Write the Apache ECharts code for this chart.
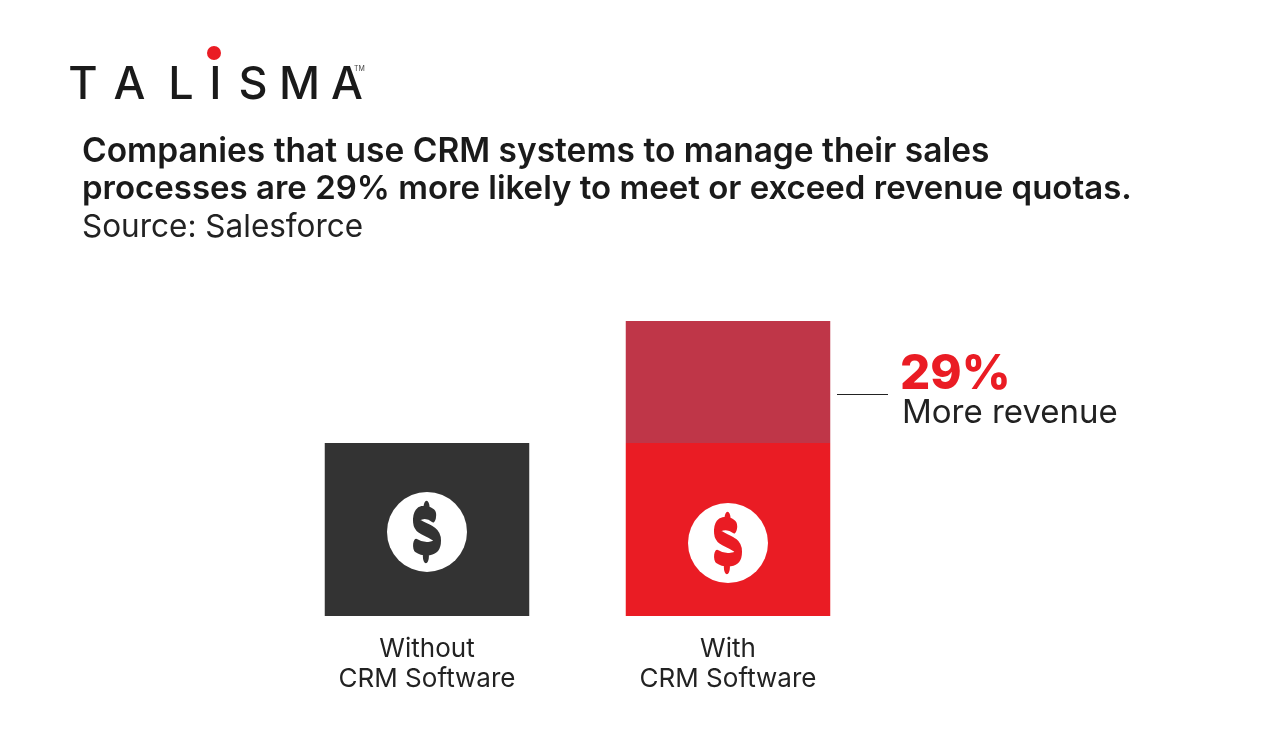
<!DOCTYPE html>
<html>
<head>
<meta charset="utf-8">
<title>CRM revenue</title>
<style>
html, body { margin: 0; padding: 0; background: #fff; }
#chart { width: 1280px; height: 752px; }
</style>
<script src="https://cdn.jsdelivr.net/npm/echarts@6/dist/echarts.min.js"></script>
</head>
<body>
<div id="chart"></div>
<script>
var categories = ['Without\nCRM Software', 'With\nCRM Software'];
var baseValues = [100, 100];
var upliftValues = [0, 70.5];
var iconValues = [48.6, 42.2];
var FONT = 'Inter';
var RED = '#ea1c24';
var DARK = '#333333';
var iconColors = [DARK, RED];

// dollar sign outline, drawn as a stroked symbol
var DOLLAR = 'path://M370 258C350 240 315 245 318 275C320 300 385 305 385 335C385 365 340 365 318 350M350 232L350 245M348 365L348 384';

// logo letters are placed one by one, canvas text has no letter spacing
var logoLetters = [['T', 82], ['A', 128.5], ['L', 180], ['I', 214.5], ['S', 252], ['M', 298.5], ['A', 346]];

// y is the text baseline
function textItem(x, y, text, size, weight, color, align) {
    return {
        type: 'text',
        x: x,
        y: y - size * 0.8,
        style: {
            text: text,
            fontFamily: FONT,
            fontSize: size,
            fontWeight: weight,
            fill: color,
            align: align || 'left',
            verticalAlign: 'top'
        }
    };
}

var graphics = logoLetters.map(function (l) {
    return textItem(l[1] + 1, 98.5, l[0], 45, 500, '#1a1a1a', 'center');
});
graphics.push({ type: 'circle', shape: { cx: 214, cy: 53, r: 7 }, style: { fill: RED } });
graphics.push(textItem(354, 71, 'TM', 7, 400, '#444444'));
graphics.push(textItem(82, 162, 'Companies that use CRM systems to manage their sales', 33.5, 600, '#1a1a1a'));
graphics.push(textItem(82, 199, 'processes are 29% more likely to meet or exceed revenue quotas.', 33, 600, '#1a1a1a'));
graphics.push(textItem(82, 237, 'Source: Salesforce', 31.5, 400, '#222222'));
graphics.push({ type: 'line', shape: { x1: 837, y1: 394.5, x2: 888, y2: 394.5 }, style: { stroke: '#222222', lineWidth: 1 } });
graphics.push(textItem(900, 389, '29%', 47.5, 800, RED));
graphics.push(textItem(902, 423, 'More revenue', 33, 400, '#222222'));

var chart = echarts.init(document.getElementById('chart'), null, { renderer: 'canvas' });
chart.setOption({
    animation: false,
    backgroundColor: '#ffffff',
    grid: { left: 276.5, top: 321, width: 602, height: 295 },
    xAxis: {
        type: 'category',
        data: categories,
        axisLine: { show: false },
        axisTick: { show: false },
        axisLabel: {
            margin: 18,
            fontFamily: FONT,
            fontSize: 26,
            lineHeight: 30,
            color: '#222222'
        }
    },
    yAxis: {
        type: 'value',
        min: 0,
        max: 170.5,
        show: false,
        splitLine: { show: false }
    },
    series: [
        {
            type: 'bar',
            stack: 'total',
            barWidth: 204.5,
            data: baseValues,
            itemStyle: {
                color: function (p) { return iconColors[p.dataIndex]; }
            }
        },
        {
            type: 'bar',
            stack: 'total',
            barWidth: 204.5,
            data: upliftValues,
            itemStyle: { color: '#bf3648' }
        },
        {
            type: 'scatter',
            data: iconValues,
            symbol: 'circle',
            symbolSize: 80,
            z: 5,
            itemStyle: { color: '#ffffff', opacity: 1 }
        },
        {
            type: 'scatter',
            data: iconValues.map(function (v, i) {
                return { value: v, itemStyle: { borderColor: iconColors[i] } };
            }),
            symbol: DOLLAR,
            symbolSize: [22, 49],
            z: 6,
            itemStyle: {
                color: 'transparent',
                opacity: 1,
                borderWidth: 9,
                borderCap: 'round',
                borderJoin: 'round'
            }
        }
    ],
    graphic: graphics
});
</script>
</body>
</html>
